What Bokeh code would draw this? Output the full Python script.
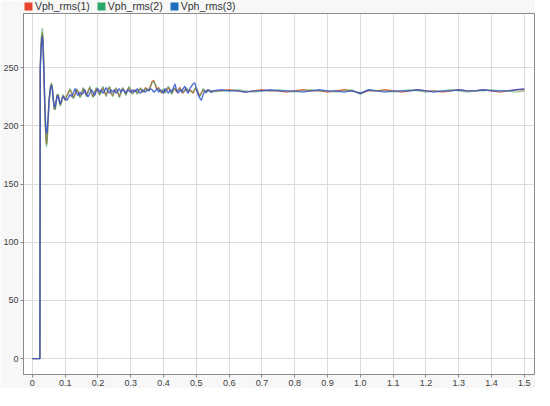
from bokeh.plotting import figure
from bokeh.models import Range1d, Legend, LegendItem, FixedTicker
from bokeh.embed import file_html
from bokeh.resources import INLINE

SERIES_NAMES = ["Vph_rms(1)", "Vph_rms(2)", "Vph_rms(3)"]
SERIES_COLORS = ["#e8452c", "#2aa86a", "#1f6fbf"]
LINE_COLORS = ["#d8502a", "#3aa860", "#2e4fcf"]
LINE_ALPHAS = [0.85, 0.55, 0.8]

X_TICKS = [0, 0.1, 0.2, 0.3, 0.4, 0.5, 0.6, 0.7, 0.8, 0.9, 1.0, 1.1, 1.2, 1.3, 1.4, 1.5]
X_TICK_LABELS = ["0", "0.1", "0.2", "0.3", "0.4", "0.5", "0.6", "0.7", "0.8", "0.9",
                 "1.0", "1.1", "1.2", "1.3", "1.4", "1.5"]
Y_TICKS = [0, 50, 100, 150, 200, 250]

# time samples (s)
T_START = [0.000, 0.023, 0.024, 0.027, 0.030, 0.032, 0.035, 0.038, 0.041, 0.043,
           0.045, 0.048, 0.051, 0.055, 0.058, 0.061, 0.064, 0.067, 0.070, 0.073,
           0.076, 0.079, 0.082, 0.085, 0.088, 0.091, 0.094, 0.097, 0.100]
T_MID = [0.105, 0.110, 0.115, 0.120, 0.125, 0.130, 0.135, 0.140, 0.145, 0.150,
         0.155, 0.160, 0.165, 0.170, 0.175, 0.180, 0.185, 0.190, 0.195, 0.200,
         0.205, 0.210, 0.215, 0.220, 0.225, 0.230, 0.235, 0.240, 0.245, 0.250,
         0.255, 0.260, 0.265, 0.270, 0.275, 0.280, 0.285, 0.290, 0.295, 0.300,
         0.305, 0.310, 0.315, 0.320, 0.325, 0.330, 0.335, 0.340, 0.345, 0.350,
         0.355, 0.360, 0.365, 0.370, 0.375, 0.380, 0.385, 0.390, 0.395, 0.400,
         0.405, 0.410, 0.415, 0.420, 0.425, 0.430, 0.435, 0.440, 0.445, 0.450,
         0.455, 0.460, 0.465, 0.470, 0.475, 0.480, 0.485, 0.490, 0.495, 0.500,
         0.505, 0.510, 0.515, 0.520, 0.525, 0.530, 0.535, 0.540, 0.545, 0.550]
T_END = [0.575, 0.600, 0.625, 0.650, 0.675, 0.700, 0.725, 0.750, 0.775, 0.800,
         0.825, 0.850, 0.875, 0.900, 0.925, 0.950, 0.975, 1.000, 1.025, 1.050,
         1.075, 1.100, 1.125, 1.150, 1.175, 1.200, 1.225, 1.250, 1.275, 1.300,
         1.325, 1.350, 1.375, 1.400, 1.425, 1.450, 1.475, 1.500]

V1_START = [0, 0, 250, 272, 280, 276, 250, 215, 190, 184, 188, 205, 222, 233, 236,
            232, 222, 214, 215, 222, 227, 226, 222, 218, 220, 224, 226, 224, 222]
V2_START = [0, 0, 252, 275, 284, 279, 252, 216, 190, 182, 186, 204, 221, 233, 237,
            233, 223, 214, 214, 221, 227, 227, 222, 217, 219, 224, 227, 225, 222]
V3_START = [0, 0, 248, 268, 277, 272, 248, 218, 198, 193, 196, 208, 222, 232, 235,
            231, 222, 216, 217, 222, 226, 225, 221, 219, 221, 224, 225, 224, 223]

V1_MID = [226, 229, 231, 228, 224, 227, 231, 229, 225, 228,
          232, 229, 226, 230, 233, 228, 225, 229, 232, 230,
          227, 230, 233, 229, 226, 231, 233, 228, 226, 230,
          232, 229, 225, 229, 232, 230, 227, 231, 233, 229,
          228, 231, 230, 228, 231, 232, 229, 230, 233, 231,
          231, 234, 238, 239, 235, 231, 233, 230, 228, 231,
          229, 231, 233, 230, 228, 231, 232, 229, 231, 233,
          230, 228, 231, 232, 229, 231, 230, 228, 231, 232,
          229, 226, 228, 231, 230, 229, 231, 230, 229, 230]
V2_MID = [225, 228, 232, 229, 223, 226, 232, 230, 224, 227,
          233, 230, 225, 229, 234, 229, 224, 228, 233, 231,
          226, 229, 234, 230, 225, 230, 234, 229, 225, 229,
          233, 230, 224, 228, 233, 231, 226, 230, 234, 230,
          227, 230, 231, 227, 230, 233, 230, 229, 232, 232,
          230, 233, 237, 238, 236, 232, 232, 229, 229, 232,
          228, 232, 234, 231, 227, 230, 233, 230, 230, 232,
          231, 229, 230, 233, 230, 230, 229, 229, 232, 233,
          228, 225, 227, 232, 231, 228, 230, 231, 230, 229]
V3_MID = [222, 224, 227, 225, 228, 232, 228, 226, 229, 227,
          228, 231, 227, 225, 228, 231, 229, 226, 230, 232,
          229, 231, 228, 230, 233, 230, 228, 231, 229, 231,
          228, 230, 232, 229, 231, 230, 228, 231, 230, 229,
          231, 229, 230, 232, 229, 228, 231, 230, 229, 231,
          230, 232, 231, 229, 230, 232, 229, 231, 230, 228,
          232, 230, 228, 231, 229, 233, 236, 230, 228, 231,
          229, 232, 234, 230, 228, 232, 234, 236, 237, 232,
          227, 224, 222, 226, 230, 229, 231, 230, 229, 230]

V1_END = [230, 231, 230, 229, 230, 231, 230, 230, 229, 230,
          231, 230, 230, 229, 230, 231, 230, 228, 230, 230,
          231, 230, 229, 230, 231, 230, 230, 229, 230, 231,
          230, 230, 231, 230, 229, 230, 231, 231]
V2_END = [230, 230, 231, 230, 229, 230, 230, 231, 230, 229,
          230, 231, 230, 230, 229, 230, 231, 227, 231, 230,
          230, 229, 230, 231, 230, 229, 230, 230, 231, 230,
          229, 230, 230, 231, 230, 230, 229, 230]
V3_END = [231, 230, 230, 229, 230, 230, 231, 230, 230, 230,
          229, 230, 231, 230, 230, 229, 230, 228, 231, 230,
          229, 230, 230, 230, 231, 230, 229, 230, 230, 231,
          230, 230, 231, 230, 230, 230, 231, 232]

T = T_START + T_MID + T_END
SERIES = [V1_START + V1_MID + V1_END,
          V2_START + V2_MID + V2_END,
          V3_START + V3_MID + V3_END]

FONT = "Liberation Sans"
GRAY_BG = "#f7f7f7"
FRAME_COLOR = "#8a8a8a"

# plot box (axes area) limits in data units
X_MIN, X_MAX = -0.027, 1.531
Y_MIN, Y_MAX = -13.6, 296.5
BOX_PX = 361      # height of the plot box in pixels
BAND_PX = 13      # legend band above the plot box, inside the frame
Y_TOP = Y_MAX + BAND_PX * (Y_MAX - Y_MIN) / BOX_PX
X_END = X_MAX + 1.0 * (X_MAX - X_MIN) / 511

p = figure(frame_width=512, frame_height=BOX_PX + BAND_PX,
           x_range=Range1d(X_MIN, X_END), y_range=Range1d(Y_MIN, Y_TOP),
           output_backend="svg", toolbar_location=None,
           min_border_left=0, min_border_right=0, min_border_top=0, min_border_bottom=0)

p.background_fill_color = GRAY_BG
p.border_fill_color = GRAY_BG
p.outline_line_color = None

# white axes area (drawn below the grid)
p.quad(left=[X_MIN], right=[X_MAX], bottom=[Y_MIN], top=[Y_MAX],
       fill_color="white", line_color=None, level="image")

for vals, color, alpha in zip(SERIES, LINE_COLORS, LINE_ALPHAS):
    p.line(T, vals, line_color=color, line_width=1.4, line_alpha=alpha)

# gray legend band covers grid lines above the axes area; then the box outline
p.quad(left=[X_MIN], right=[X_END], bottom=[Y_MAX], top=[Y_TOP],
       fill_color=GRAY_BG, line_color=None, level="guide")
p.quad(left=[X_MIN], right=[X_MAX], bottom=[Y_MIN], top=[Y_MAX],
       fill_color=None, line_color=FRAME_COLOR, line_width=1, level="guide")

# legend swatches: square glyphs parked outside the visible range
dummies = []
for color in SERIES_COLORS:
    dummies.append(p.rect(x=[-5.0], y=[-500.0], width=0.01, height=1,
                          fill_color=color, line_color=None))

legend = Legend(items=[LegendItem(label=n, renderers=[r]) for n, r in zip(SERIES_NAMES, dummies)],
                orientation="horizontal", location="top_left",
                glyph_width=10, glyph_height=10, label_height=10,
                label_text_font=FONT, label_text_font_size="10.5px", label_text_color="#333333",
                label_standoff=2, spacing=6, padding=0, margin=0,
                border_line_color=None, background_fill_alpha=0)
p.add_layout(legend, "center")

for ax in (p.xaxis[0], p.yaxis[0]):
    ax.axis_line_color = FRAME_COLOR
    ax.major_tick_line_color = FRAME_COLOR
    ax.major_tick_out = 3
    ax.major_tick_in = 0
    ax.minor_tick_line_color = None
    ax.major_label_text_font = FONT
    ax.major_label_text_font_size = "9px"
    ax.major_label_text_color = "#404040"
    ax.major_label_standoff = 2

p.xaxis.ticker = FixedTicker(ticks=X_TICKS)
p.xaxis.major_label_overrides = {t: l for t, l in zip(X_TICKS, X_TICK_LABELS)}
p.xaxis.bounds = (X_MIN, X_MAX)
p.yaxis.ticker = FixedTicker(ticks=Y_TICKS)
p.yaxis.bounds = (Y_MIN, Y_MAX)

p.xgrid.grid_line_color = "#dcdcdc"
p.ygrid.grid_line_color = "#dcdcdc"
p.xgrid.ticker = FixedTicker(ticks=X_TICKS)
p.ygrid.ticker = FixedTicker(ticks=Y_TICKS)

open("out.html", "w").write(file_html(p, INLINE))
